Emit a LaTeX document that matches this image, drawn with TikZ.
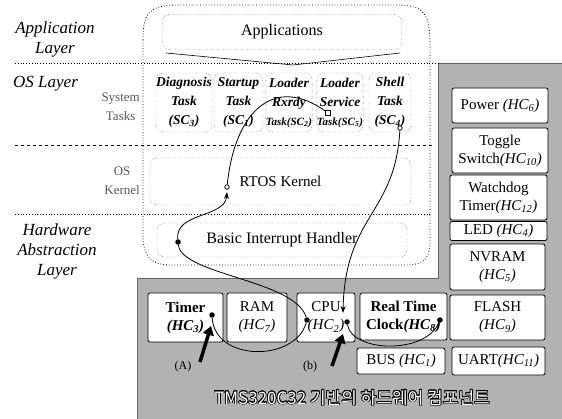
\documentclass[tikz,border=0pt]{standalone}
\usepackage{fontspec}
\setmainfont{Liberation Serif}
\newfontfamily\kr{Noto Sans CJK KR}
\usepackage[copies]{contour}
\contourlength{0.7pt}
\usetikzlibrary{arrows.meta}
\tikzset{
  layerlab/.style={font=\fontsize{17}{20}\selectfont\itshape, align=center, inner sep=0pt},
  sublab/.style={font=\fontsize{13}{19}\selectfont, text=black!65, align=center, inner sep=0pt},
  dotbox/.style={draw, dotted, rounded corners=7pt, inner sep=0pt},
  taskbox/.style={dotbox, font=\fontsize{13.5}{19}\selectfont\bfseries\itshape, align=center},
  hcbox/.style={draw, fill=white, thick, rounded corners=2pt, inner sep=0pt, align=center, font=\fontsize{15}{18}\selectfont},
  sepline/.style={dotted, thick},
  dotmark/.style={circle, fill, inner sep=0pt, minimum size=5.5pt},
  odotmark/.style={circle, draw, fill=white, thick, inner sep=0pt, minimum size=4.5pt},
  sqmark/.style={draw, fill=white, thick, inner sep=0pt, minimum size=4.5pt},
  flow/.style={thick},
  flowarrow/.style={thick, -{Stealth[length=7pt,width=5pt]}},
  bigarrow/.style={line width=3.5pt, -{Triangle[length=9pt,width=11pt]}},
  smalllab/.style={font=\fontsize{12}{14}\selectfont, inner sep=0pt}
}
\newcommand{\tasktail}[1]{{\fontsize{11}{19}\selectfont #1}}
\begin{document}
\begin{tikzpicture}[x=1pt,y=-1pt]
\useasboundingbox (0,0) rectangle (562,419);
% hardware gray region
\fill[black!30] (438,63) -- (562,63) -- (562,419) -- (137,419) -- (137,278) -- (438,278) -- cycle;
\draw[black!60, thick] (562,63) -- (438,63) -- (438,278) -- (137,278) -- (137,419);
% layer separators
\draw[sepline] (15,63) -- (438,63);
\draw[dashed, thick] (15,145) -- (432,145);
\draw[sepline] (15,214) -- (432,214);
% outer software container
\draw[dotted, thick] (143,40) .. controls (143,12) and (150,6) .. (175,5) -- (400,5)
  .. controls (425,6) and (430,15) .. (430,45) -- (430,240)
  .. controls (430,258) and (425,265) .. (405,265) -- (170,265)
  .. controls (150,265) and (143,255) .. (143,235) -- cycle;
% applications
\node[dotbox, minimum width=239pt, minimum height=35pt, font=\fontsize{16}{19}\selectfont] (apps) at (282,32) {Applications};
\draw[semithick] (166,53) -- (293,65) -- (400,53);
% layer labels
\node[layerlab] (applab) at (55,39) {Application\\Layer};
\node[layerlab, anchor=west] (oslab) at (13,84) {OS Layer};
\node[sublab, anchor=east] (systasks) at (140,107) {System\\Tasks};
\node[sublab, anchor=east] (oskern) at (140,181) {OS\\Kernel};
\node[layerlab] (hallab) at (57,251) {Hardware\\Abstraction\\Layer};
% system tasks
\node[taskbox, minimum width=56pt, minimum height=59pt] (diag) at (184,102.5) {Diagnosis\\Task\\(SC\textsubscript{3})};
\node[taskbox, minimum width=49pt, minimum height=59pt] (startup) at (238.5,102.5) {Startup\\Task\\(SC\textsubscript{1})};
\node[taskbox, minimum width=44pt, minimum height=59pt] (rxrdy) at (289,102.5) {Loader\\Rxrdy\\\tasktail{Task(SC\textsubscript{2})}};
\node[taskbox, minimum width=46pt, minimum height=59pt] (service) at (340,102.5) {Loader\\Service\\\tasktail{Task(SC\textsubscript{5})}};
\node[taskbox, minimum width=42pt, minimum height=59pt] (shell) at (390,102.5) {Shell\\Task\\(SC\textsubscript{4})};
% kernel and HAL
\node[dotbox, minimum width=261pt, minimum height=47pt, font=\fontsize{15}{18}\selectfont] (kern) at (280.5,181.5) {RTOS Kernel};
\node[dotbox, minimum width=250pt, minimum height=34pt, font=\fontsize{16}{19}\selectfont] (bih) at (282,240) {Basic Interrupt Handler};
% hardware components, right column
\node[hcbox, minimum width=96pt, minimum height=35pt] (power) at (500,105.5) {Power \textit{(HC\textsubscript{6})}};
\node[hcbox, minimum width=96pt, minimum height=45pt] (toggle) at (500,150.5) {Toggle\\Switch\textit{(HC\textsubscript{10})}};
\node[hcbox, minimum width=97pt, minimum height=45pt] (wdog) at (498.5,197.5) {Watchdog\\Timer\textit{(HC\textsubscript{12})}};
\node[hcbox, minimum width=97pt, minimum height=19pt] (led) at (498.5,231) {LED \textit{(HC\textsubscript{4})}};
\node[hcbox, minimum width=95pt, minimum height=46pt] (nvram) at (497.5,267) {NVRAM\\\textit{(HC\textsubscript{5})}};
\node[hcbox, minimum width=95pt, minimum height=45pt] (flash) at (497.5,317.5) {FLASH\\\textit{(HC\textsubscript{9})}};
\node[hcbox, minimum width=93pt, minimum height=28pt] (uart) at (498.5,361) {UART\textit{(HC\textsubscript{11})}};
% hardware components, bottom row
\node[hcbox, minimum width=75pt, minimum height=49pt] (timer) at (185.5,317.5) {\textbf{Timer}\\\textbf{\textit{(HC\textsubscript{3})}}};
\node[hcbox, minimum width=60pt, minimum height=49pt] (ram) at (257,317.5) {RAM\\\textit{(HC\textsubscript{7})}};
\node[hcbox, minimum width=58pt, minimum height=49pt] (cpu) at (326,317.5) {CPU\\\textit{(HC\textsubscript{2})}};
\node[hcbox, minimum width=87pt, minimum height=47pt] (rtc) at (403.5,316.5) {\textbf{Real Time}\\\textbf{Clock\textit{(HC\textsubscript{8})}}};
\node[hcbox, minimum width=88pt, minimum height=26pt] (bus) at (401,361) {BUS \textit{(HC\textsubscript{1})}};
% title
\node[font=\kr\fontsize{17}{20}\selectfont, text=white, inner sep=0pt] (title) at (352,398) {\contour{black}{TMS320C32 기반의 하드웨어 컴포넌트}};
% markers
\node[dotmark] (tdot) at (212,315) {};
\node[dotmark] (cdot) at (307,320) {};
\node[dotmark] (hdot) at (178,242) {};
\node[odotmark] (kdot) at (227,187) {};
\coordinate (karr) at (227,192);
\node[sqmark] (ldot) at (328,113) {};
\node[odotmark] (sdot) at (400,128) {};
\coordinate (carr) at (343,313);
\node[dotmark] (cdot2) at (347,322) {};
\node[dotmark] (rdot) at (440,320) {};
% flows
\draw[flow] (tdot) .. controls (215,362) and (295,362) .. (cdot);
\draw[flow] (hdot) .. controls (182,275) and (295,280) .. (cdot);
\draw[flowarrow] (hdot) .. controls (175,212) and (225,218) .. (karr);
\draw[flow] (kdot) .. controls (235,110) and (275,75) .. (ldot);
\draw[flowarrow] (sdot) .. controls (395,215) and (345,215) .. (carr);
\draw[flow] (cdot2) .. controls (352,352) and (425,355) .. (rdot);
% big arrows and labels
\coordinate (a1t) at (200,362);
\coordinate (a1h) at (211,326);
\coordinate (a2t) at (332,366);
\coordinate (a2h) at (343,334);
\draw[bigarrow] (a1t) -- (a1h);
\draw[bigarrow] (a2t) -- (a2h);
\node[smalllab] (lblA) at (183,367) {(A)};
\node[smalllab] (lblB) at (310,367) {(b)};
\end{tikzpicture}
\end{document}
